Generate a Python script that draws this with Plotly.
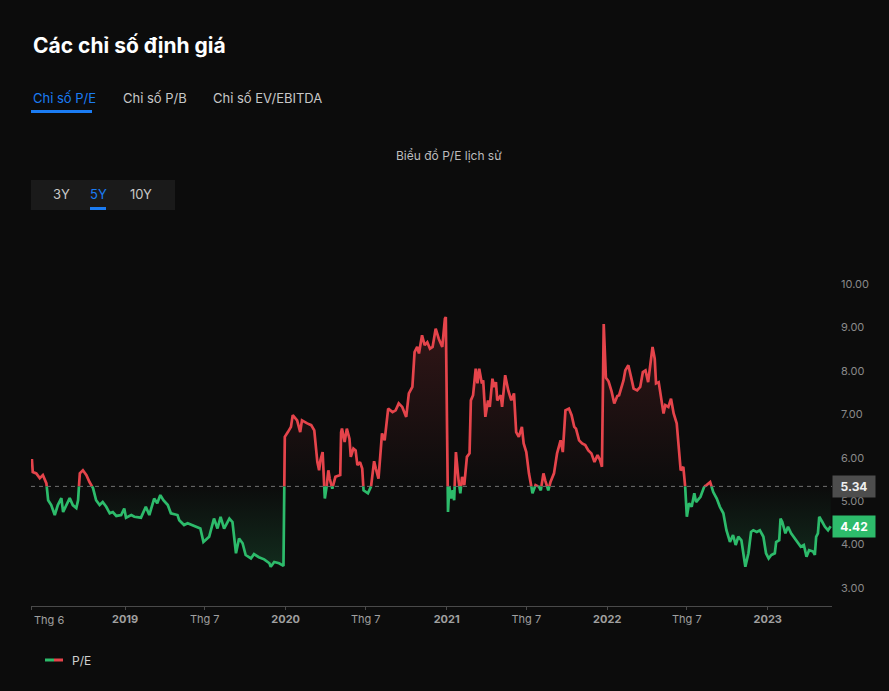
import numpy as np
import pandas as pd
import plotly.graph_objects as go

# ---------------- data ----------------
dates = [
    "2018-06-03", "2018-06-05", "2018-06-13", "2018-06-21", "2018-06-28",
    "2018-07-06", "2018-07-10", "2018-07-17", "2018-07-25",
    "2018-08-01", "2018-08-09", "2018-08-13", "2018-08-20", "2018-08-28",
    "2018-09-04", "2018-09-12", "2018-09-16", "2018-09-20", "2018-09-27",
    "2018-10-05", "2018-10-12", "2018-10-20", "2018-10-27",
    "2018-11-04", "2018-11-11", "2018-11-19", "2018-11-27",
    "2018-12-04", "2018-12-12", "2018-12-23", "2018-12-30",
    "2019-01-03", "2019-01-15", "2019-01-22", "2019-02-06", "2019-02-17", "2019-02-25",
    "2019-03-08", "2019-03-15", "2019-03-22", "2019-03-29", "2019-04-08", "2019-04-15",
    "2019-04-30", "2019-05-04", "2019-05-15", "2019-05-23", "2019-06-03", "2019-06-14",
    "2019-06-21", "2019-06-28", "2019-07-11", "2019-07-22", "2019-07-30", "2019-08-06",
    "2019-08-14", "2019-08-26", "2019-09-02", "2019-09-10", "2019-09-17", "2019-09-25",
    "2019-10-02", "2019-10-14", "2019-10-21", "2019-11-01", "2019-11-13", "2019-11-25",
    "2019-11-28", "2019-12-06", "2019-12-17", "2019-12-27", "2019-12-30",
    "2020-01-06", "2020-01-13", "2020-01-17", "2020-01-27", "2020-02-03", "2020-02-07",
    "2020-02-19", "2020-02-28", "2020-03-06", "2020-03-10", "2020-03-13", "2020-03-17",
    "2020-03-20", "2020-03-25", "2020-03-27", "2020-03-30", "2020-04-03", "2020-04-07",
    "2020-04-10", "2020-04-16", "2020-04-23", "2020-05-04", "2020-05-06", "2020-05-08",
    "2020-05-14", "2020-05-19", "2020-05-25", "2020-05-28", "2020-06-03", "2020-06-08",
    "2020-06-12", "2020-06-18", "2020-06-23", "2020-06-26", "2020-07-06", "2020-07-13",
    "2020-07-20", "2020-07-24", "2020-07-30", "2020-08-04", "2020-08-07", "2020-08-13",
    "2020-08-18", "2020-08-21", "2020-08-31", "2020-09-07", "2020-09-14", "2020-09-22",
    "2020-10-01", "2020-10-07", "2020-10-15", "2020-10-20", "2020-10-26", "2020-10-30",
    "2020-11-06", "2020-11-12", "2020-11-18", "2020-11-24", "2020-11-30", "2020-12-07",
    "2020-12-14", "2020-12-22", "2020-12-28", "2020-12-30",
    "2021-01-04", "2021-01-07", "2021-01-11", "2021-01-15", "2021-01-18", "2021-01-22",
    "2021-01-28", "2021-02-01", "2021-02-05", "2021-02-10", "2021-02-16", "2021-02-22",
    "2021-02-25", "2021-03-02", "2021-03-08", "2021-03-12", "2021-03-16", "2021-03-22",
    "2021-03-25", "2021-03-30", "2021-04-05", "2021-04-09", "2021-04-15", "2021-04-19",
    "2021-04-23", "2021-04-26", "2021-05-04", "2021-05-07", "2021-05-14", "2021-05-21",
    "2021-05-28", "2021-06-03", "2021-06-08", "2021-06-14", "2021-06-21", "2021-06-25",
    "2021-07-01", "2021-07-07", "2021-07-12", "2021-07-15", "2021-07-22", "2021-07-30",
    "2021-08-03", "2021-08-09", "2021-08-13", "2021-08-20", "2021-08-25", "2021-09-02",
    "2021-09-09", "2021-09-17", "2021-09-22", "2021-09-28", "2021-10-06", "2021-10-12",
    "2021-10-18", "2021-10-22", "2021-10-29", "2021-11-05", "2021-11-12", "2021-11-19",
    "2021-11-26", "2021-12-03", "2021-12-10", "2021-12-16", "2021-12-20", "2021-12-24",
    "2021-12-29",
    "2022-01-04", "2022-01-11", "2022-01-17", "2022-01-24", "2022-01-28", "2022-02-07",
    "2022-02-11", "2022-02-18", "2022-02-25", "2022-03-02", "2022-03-10", "2022-03-17",
    "2022-03-23", "2022-03-29", "2022-04-04", "2022-04-08", "2022-04-14", "2022-04-19",
    "2022-04-22", "2022-04-28", "2022-05-04", "2022-05-09", "2022-05-13", "2022-05-20",
    "2022-05-26", "2022-06-01", "2022-06-08", "2022-06-14", "2022-06-17", "2022-06-23",
    "2022-06-27", "2022-07-01", "2022-07-06", "2022-07-12", "2022-07-18", "2022-07-22",
    "2022-08-01", "2022-08-08", "2022-08-15", "2022-08-23", "2022-08-30", "2022-09-07",
    "2022-09-14", "2022-09-22", "2022-09-29", "2022-10-07", "2022-10-14", "2022-10-20",
    "2022-10-26", "2022-11-02", "2022-11-07", "2022-11-11", "2022-11-18", "2022-11-24",
    "2022-11-29", "2022-12-07", "2022-12-14", "2022-12-22", "2022-12-28",
    "2023-01-03", "2023-01-09", "2023-01-17", "2023-01-20", "2023-01-27", "2023-01-30",
    "2023-02-03", "2023-02-10", "2023-02-16", "2023-02-23", "2023-03-03", "2023-03-10",
    "2023-03-17", "2023-03-24", "2023-03-30", "2023-04-05", "2023-04-14", "2023-04-18",
    "2023-04-21", "2023-04-25", "2023-04-28", "2023-05-05", "2023-05-11", "2023-05-18",
    "2023-05-24",
]

pe_values = [
    5.97, 5.67, 5.64, 5.53, 5.60,
    5.41, 5.02, 4.91, 4.68,
    4.91, 5.07, 4.75, 4.91, 5.07,
    4.91, 4.84, 5.02, 5.64, 5.71,
    5.60, 5.44, 5.30, 5.02,
    4.91, 4.98, 4.87, 4.72,
    4.75, 4.66, 4.68, 4.83,
    4.62, 4.68, 4.64, 4.62, 4.87, 4.68,
    5.06, 4.95, 5.14, 5.02, 4.91, 4.72,
    4.68, 4.56, 4.45, 4.49, 4.45, 4.41,
    4.37, 4.06, 4.18, 4.60, 4.37, 4.64,
    4.37, 4.60, 4.52, 3.80, 4.14, 4.03,
    3.76, 3.68, 3.78, 3.71, 3.66, 3.57,
    3.49, 3.60, 3.57, 3.51, 6.48,
    6.59, 6.71, 6.98, 6.86, 6.59, 6.86,
    6.79, 6.75, 6.63, 6.21, 5.90, 5.71,
    5.94, 6.13, 5.67, 5.06, 5.33, 5.71,
    5.52, 5.29, 5.56, 5.60, 6.59, 6.67,
    6.36, 6.67, 6.44, 6.02, 6.21, 6.17,
    5.83, 5.90, 5.75, 5.25, 5.18, 5.33,
    5.92, 5.75, 5.52, 6.17, 6.56, 6.40,
    6.86, 7.13, 7.05, 7.09, 7.25, 7.17,
    6.94, 7.48, 7.63, 8.43, 8.55, 8.40,
    8.82, 8.59, 8.66, 8.51, 8.55, 8.97,
    8.74, 8.55, 9.20, 9.24,
    4.75, 5.33, 5.06, 5.25, 5.02, 6.13,
    5.48, 5.18, 5.56, 5.37, 6.02, 6.10,
    7.32, 7.44, 8.05, 7.71, 8.05, 7.71,
    7.78, 6.94, 7.32, 7.17, 7.82, 7.63,
    7.74, 7.32, 7.44, 7.17, 7.90, 7.55,
    7.32, 7.48, 6.59, 6.48, 6.71, 6.33,
    6.13, 5.64, 5.37, 5.18, 5.37, 5.33,
    5.25, 5.64, 5.48, 5.25, 5.44, 5.64,
    6.10, 6.40, 6.13, 7.09, 7.13, 6.98,
    6.71, 6.67, 6.40, 6.33, 6.29, 6.17,
    6.10, 5.90, 6.06, 5.94, 5.79, 9.08,
    7.84,
    7.76, 7.52, 7.25, 7.42, 7.44, 7.78,
    8.01, 8.13, 7.82, 7.59, 7.55, 7.63,
    7.97, 8.01, 7.74, 8.05, 8.55, 8.28,
    7.71, 7.74, 7.36, 7.02, 7.21, 7.17,
    7.36, 7.02, 6.79, 6.17, 5.71, 5.79,
    5.37, 4.64, 4.95, 4.87, 5.18, 4.98,
    5.10, 5.33, 5.37, 5.44, 5.21, 5.06,
    4.87, 4.72, 4.33, 4.06, 4.22, 3.99,
    4.18, 4.10, 3.80, 3.49, 3.80, 4.29,
    4.33, 4.29, 4.33, 4.18, 3.80,
    3.68, 3.76, 3.80, 4.06, 4.10, 4.60,
    4.52, 4.26, 4.41, 4.26, 4.14, 4.06,
    3.95, 3.99, 3.72, 3.87, 3.84, 3.76,
    4.18, 4.26, 4.64, 4.52, 4.41, 4.33,
    4.42,
]

BASELINE = 5.34
y_ticks = [3, 4, 5, 6, 7, 8, 9, 10]
x_tick_dates = ["2018-06-01", "2019-01-01", "2019-07-01", "2020-01-01", "2020-07-01",
                "2021-01-01", "2021-07-01", "2022-01-01", "2022-07-01", "2023-01-01"]
x_tick_labels = ["Thg 6", "2019", "Thg 7", "2020", "Thg 7",
                 "2021", "Thg 7", "2022", "Thg 7", "2023"]
x_range = ["2018-06-01", "2023-05-27"]
y_range = [2.586, 11.243]

# ---------------- styling ----------------
BG = "#0c0c0c"
RED = "#e5444b"
GREEN = "#2dbb6b"
BLUE = "#1b7cf3"
FONT = "Inter, 'Noto Sans', sans-serif"

W, H = 889, 691
ML, MR, MT, MB = 31, 57, 230, 85
PW, PH = W - ML - MR, H - MT - MB


def px(x):
    return (x - ML) / PW


def py(y):
    return (H - MB - y) / PH


# ---------------- split series at baseline ----------------
t = pd.to_datetime(dates).astype("int64").to_numpy()
v = np.array(pe_values, dtype=float)
xs, ys = [], []
for i in range(len(v)):
    if i > 0 and (v[i - 1] - BASELINE) * (v[i] - BASELINE) < 0:
        f = (BASELINE - v[i - 1]) / (v[i] - v[i - 1])
        xs.append(int(t[i - 1] + f * (t[i] - t[i - 1])))
        ys.append(BASELINE)
    xs.append(int(t[i]))
    ys.append(v[i])
xd = pd.to_datetime(np.array(xs, dtype="int64"))
ya = np.array(ys)

red_line = [y if y >= BASELINE else None for y in ya]
green_line = [y if y <= BASELINE else None for y in ya]
base_arr = [BASELINE] * len(ya)

fig = go.Figure()
fig.add_trace(go.Scatter(x=xd, y=base_arr, mode="lines", line=dict(width=0),
                         hoverinfo="skip", showlegend=False))
fig.add_trace(go.Scatter(
    x=xd, y=np.maximum(ya, BASELINE), mode="lines", line=dict(width=0),
    fill="tonexty",
    fillgradient=dict(type="vertical",
                      colorscale=[[0, "rgba(229,68,75,0)"], [1, "rgba(229,68,75,0.18)"]],
                      start=BASELINE, stop=max(pe_values)),
    hoverinfo="skip", showlegend=False))
fig.add_trace(go.Scatter(x=xd, y=base_arr, mode="lines", line=dict(width=0),
                         hoverinfo="skip", showlegend=False))
fig.add_trace(go.Scatter(
    x=xd, y=np.minimum(ya, BASELINE), mode="lines", line=dict(width=0),
    fill="tonexty",
    fillgradient=dict(type="vertical",
                      colorscale=[[0, "rgba(45,187,107,0.18)"], [1, "rgba(45,187,107,0)"]],
                      start=min(pe_values), stop=BASELINE),
    hoverinfo="skip", showlegend=False))
fig.add_trace(go.Scatter(x=xd, y=red_line, mode="lines", connectgaps=False,
                         line=dict(color=RED, width=2.7), name="P/E", showlegend=False))
fig.add_trace(go.Scatter(x=xd, y=green_line, mode="lines", connectgaps=False,
                         line=dict(color=GREEN, width=2.7), name="P/E", showlegend=False))

# ---------------- axes ----------------
tick_text = ["" if i == 0 else (f"<b>{lab}</b>" if not lab.startswith("Thg") else lab)
             for i, lab in enumerate(x_tick_labels)]

fig.update_xaxes(
    type="date", range=x_range, tickvals=x_tick_dates, ticktext=tick_text,
    showgrid=False, zeroline=False, showline=True, linecolor="#4a4a4a", linewidth=1,
    ticks="outside", ticklen=3, tickcolor="#4a4a4a",
    tickfont=dict(family=FONT, size=11, color="#a0a0a0"),
)
fig.update_yaxes(
    side="right", range=y_range, tickvals=y_ticks, tickformat=".2f",
    showgrid=False, zeroline=False, showline=False, ticks="",
    tickfont=dict(family=FONT, size=11, color="#8a8a8a"), ticklabelstandoff=8,
)

# ---------------- decorations ----------------
shapes = [
    dict(type="line", xref="paper", yref="y", x0=0, x1=1, y0=BASELINE, y1=BASELINE,
         line=dict(color="#707070", width=1, dash="4px,4px")),
    # tab underline
    dict(type="rect", xref="paper", yref="paper", x0=px(31), x1=px(92), y0=py(113), y1=py(110),
         fillcolor=BLUE, line=dict(width=0)),
    # range buttons box
    dict(type="rect", xref="paper", yref="paper", x0=px(31), x1=px(175), y0=py(210), y1=py(180),
         fillcolor="#1a1a1a", line=dict(width=0), layer="below"),
    dict(type="rect", xref="paper", yref="paper", x0=px(90), x1=px(106), y0=py(210), y1=py(207),
         fillcolor=BLUE, line=dict(width=0)),
    # legend icon
    dict(type="line", xref="paper", yref="paper", x0=px(45), x1=px(54), y0=py(660), y1=py(660),
         line=dict(color=GREEN, width=3)),
    dict(type="line", xref="paper", yref="paper", x0=px(54), x1=px(63), y0=py(660), y1=py(660),
         line=dict(color=RED, width=3)),
]

annotations = [
    dict(text="<b>Các chỉ số định giá</b>", x=px(31), y=py(45), xanchor="left", yanchor="middle",
         font=dict(family=FONT, size=21, color="#ffffff")),
    dict(text="Chỉ số P/E", x=px(31), y=py(98), xanchor="left", yanchor="middle",
         font=dict(family=FONT, size=13, color=BLUE)),
    dict(text="Chỉ số P/B", x=px(121), y=py(98), xanchor="left", yanchor="middle",
         font=dict(family=FONT, size=13, color="#c8c8c8")),
    dict(text="Chỉ số EV/EBITDA", x=px(211), y=py(98), xanchor="left", yanchor="middle",
         font=dict(family=FONT, size=13, color="#c8c8c8")),
    dict(text="Biểu đồ P/E lịch sử", x=px(449), y=py(155), xanchor="center", yanchor="middle",
         font=dict(family=FONT, size=12, color="#bdbdbd")),
    dict(text="3Y", x=px(61), y=py(194), xanchor="center", yanchor="middle",
         font=dict(family=FONT, size=13, color="#c8c8c8")),
    dict(text="5Y", x=px(98), y=py(194), xanchor="center", yanchor="middle",
         font=dict(family=FONT, size=13, color=BLUE)),
    dict(text="10Y", x=px(141), y=py(194), xanchor="center", yanchor="middle",
         font=dict(family=FONT, size=13, color="#c8c8c8")),
    dict(text="Thg 6", x=px(32), y=py(620), xanchor="left", yanchor="middle",
         font=dict(family=FONT, size=11, color="#a0a0a0")),
    dict(text="P/E", x=px(70), y=py(660), xanchor="left", yanchor="middle",
         font=dict(family=FONT, size=12, color="#cfcfcf")),
    dict(text="<b>%.2f</b>" % BASELINE, xref="paper", yref="y", x=1, y=BASELINE,
         xanchor="left", yanchor="middle", bgcolor="#4d4d4d", borderpad=3, width=36,
         font=dict(family=FONT, size=12, color="#f0f0f0")),
    dict(text="<b>%.2f</b>" % pe_values[-1], xref="paper", yref="y", x=1, y=pe_values[-1],
         xanchor="left", yanchor="middle", bgcolor=GREEN, borderpad=3, width=36,
         font=dict(family=FONT, size=12, color="#ffffff")),
]
for a in annotations:
    a.setdefault("xref", "paper")
    a.setdefault("yref", "paper")
    a["showarrow"] = False

fig.update_layout(
    width=W, height=H, margin=dict(l=ML, r=MR, t=MT, b=MB),
    paper_bgcolor=BG, plot_bgcolor=BG, showlegend=False,
    shapes=shapes, annotations=annotations,
    font=dict(family=FONT),
)

fig.write_html(
    "out.html",
    config={"displayModeBar": False},
    post_script="document.body.style.margin='0';document.body.style.background='#0c0c0c';",
)
